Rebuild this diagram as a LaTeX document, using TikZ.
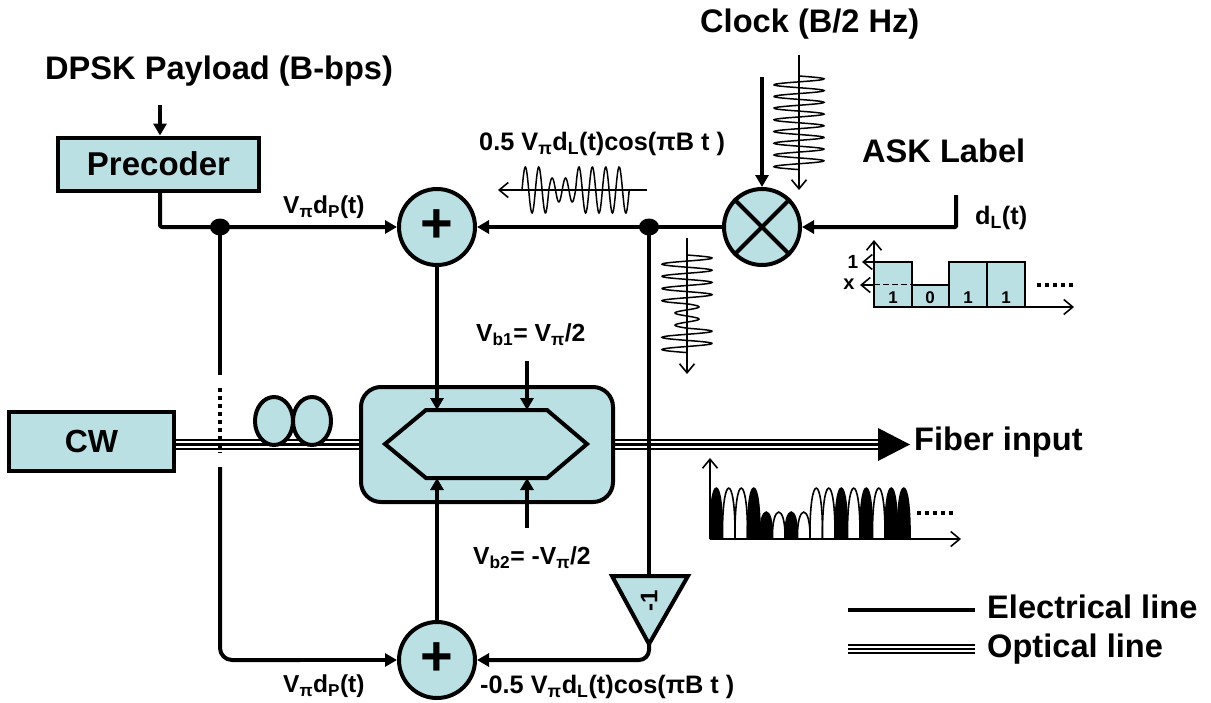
\documentclass[tikz,border=0pt]{standalone}
\usepackage{fontspec}
\setmainfont{Liberation Sans}
\usetikzlibrary{arrows.meta,shapes.geometric}
\definecolor{teal1}{HTML}{BBE0E3}
\newcommand{\fsz}[1]{\fontsize{#1}{#1}\selectfont\bfseries}
\newcommand{\Vpi}{V\textsubscript{π}}
\tikzset{
  lbl/.style={inner sep=0,anchor=west,font=\fsz{#1}},
  lbl/.default=32.6,
  boxn/.style={draw,line width=4pt,fill=teal1,inner sep=0},
  sumn/.style={boxn,circle,minimum size=76pt},
  elec/.style={line width=4pt},
  earrow/.style={elec,-{Triangle[length=12pt,width=13pt]}},
  thin1/.style={line width=1.6pt},
  tarrow/.style={thin1,-{Straight Barb[length=9pt,width=15pt,line width=1.6pt]}},
  wave/.style={line width=1.5pt},
  optline/.style={line width=2.4pt,preaction={draw,white,line width=6.4pt,preaction={draw,black,line width=11pt}}},
  dots/.style={line width=4pt,dash pattern=on 4pt off 4pt},
}
\begin{document}
\begin{tikzpicture}[x=1pt,y=-1pt]
\useasboundingbox (0,0) rectangle (1211,702);
% nodes
\node[boxn,minimum width=201pt,minimum height=53pt,font=\fsz{33}] (prec) at (158.5,164) {Precoder};
\node[boxn,minimum width=165pt,minimum height=59pt,font=\fsz{32}] (cw) at (91.5,441.5) {CW};
\node[sumn] (sumA) at (437,227) {};
\node[sumn] (sumB) at (437,660) {};
\node[font=\fsz{56},inner sep=0] (plusA) at (437,226) {+};
\node[font=\fsz{56},inner sep=0] (plusB) at (437,659) {+};
\node[boxn,circle,minimum size=76pt] (mix) at (762,227) {};
\draw[elec] (mix.45) -- (mix.225) (mix.135) -- (mix.315);
\fill (220,227) ellipse (10pt and 8.5pt);
\coordinate (dotA) at (220,227);
\fill (649,227) ellipse (10pt and 8.5pt);
\coordinate (dotB) at (649,227);
% optical lines
\coordinate (opt1) at (361,444.5);
\coordinate (opt2) at (613,444.5);
\coordinate (optend) at (880,444.5);
\draw[optline] (cw.east |- opt1) -- (opt1);
\draw[optline] (opt2) -- (optend);
\fill (878,428) -- (910,444.5) -- (878,461) -- cycle;
% coils
\node[boxn,ellipse,minimum width=38pt,minimum height=48pt] (coil1) at (274,421) {};
\node[boxn,ellipse,minimum width=38pt,minimum height=48pt] (coil2) at (312,421) {};
% modulator
\node[boxn,rounded corners=20pt,minimum width=252pt,minimum height=115pt] (mod) at (487,444.5) {};
\coordinate (hL) at (385,444);\coordinate (hTL) at (426,410);\coordinate (hTR) at (547,410);
\coordinate (hR) at (587,444);\coordinate (hBR) at (547,478);\coordinate (hBL) at (426,478);
\draw[elec,line join=miter] (hL)--(hTL)--(hTR)--(hR)--(hBR)--(hBL)--cycle;
% inverter
\coordinate (triL) at (612,576);\coordinate (triR) at (688,576);\coordinate (triB) at (649,644);
\draw[boxn,line join=miter] (triL)--(triR)--(triB)--cycle;
\node[font=\fsz{24},inner sep=0,rotate=90] (inv) at (649,601) {-1};
% electrical connectors
\coordinate (dpskin) at (160,105);
\coordinate (prb) at (160,190);
\coordinate (v1) at (220,375);
\coordinate (v2) at (220,388);
\coordinate (v3) at (220,453);
\coordinate (v4) at (220,467);
\coordinate (vb1) at (527,361);
\coordinate (vb2) at (527,528);
\coordinate (clk) at (762,77);
\coordinate (dl) at (956,195);
\draw[earrow] (dpskin) -- (prec.north -| dpskin) ;
\draw[earrow,line join=round,rounded corners=2pt] (prb) |- (sumA.west);
\draw[elec] (dotA) -- (v1);
\draw[dots] (v2) -- (v3);
\draw[elec,rounded corners=12pt] (v4) |- (300,660);
\draw[earrow] (300,660) -- (sumB.west);
\draw[earrow] (sumA.south) -- (hTL -| sumA);
\draw[earrow] (sumB.north) -- (hBL -| sumB);
\draw[earrow] (vb1) -- (hTL -| vb1);
\draw[earrow] (vb2) -- (hBL -| vb2);
\draw[earrow] (mix.west) -- (sumA.east);
\draw[elec] (dotB) -- (dotB |- triL);
\draw[earrow,rounded corners=10pt] (triB) |- (sumB.east);
\draw[earrow] (clk) -- (mix.north);
\draw[earrow,rounded corners=1pt] (dl) |- (mix.east);
% clock wave
\coordinate (ck1) at (799,55);\coordinate (ck2) at (799,190);
\draw[tarrow] (ck1) -- (ck2);
\draw[wave,domain=0:8,samples=200,smooth] plot ({799+25*sin(360*\x)},{76+11.7*\x});
% modulated wave
\coordinate (mw1) at (647,190);\coordinate (mw2) at (498,190);
\draw[tarrow] (mw1) -- (mw2);
\draw[wave,domain=0:8,samples=200,smooth] plot ({522+13.4*\x},{190-((\x>=2 && \x<=4) ? 12 : 23)*sin(360*\x)});
% vertical modulated wave
\coordinate (vw1) at (687,238);\coordinate (vw2) at (687,374);
\draw[tarrow] (vw1) -- (vw2);
\draw[wave,domain=0:8,samples=200,smooth] plot ({687+((\x>=4 && \x<=6) ? 12 : 25)*sin(360*\x)},{255+12.2*\x});
% label bar chart
\foreach \xa/\xb/\yt in {874/912/262,912/949/285,949/987/262,987/1025/262}
  \draw[thin1,fill=teal1] (\xa,307) rectangle (\xb,\yt);
\coordinate (org) at (874,307);\coordinate (ax1) at (874,240);\coordinate (ax2) at (1074,307);
\draw[tarrow] (org) -- (ax1);
\draw[tarrow] (org) -- (ax2);
\coordinate (t1) at (862,262);\coordinate (tx) at (860,285);
\draw[tarrow] (org |- t1) -- (t1);
\draw[tarrow] (org |- tx) -- (tx);
\draw[thin1,dash pattern=on 6pt off 3pt] (874,284.5) -- (912,284.5);
\foreach \x/\t in {893/1,930/0,968/1,1006/1}
  \node[font=\fsz{17},inner sep=0] at (\x,298) {\t};
\node[font=\fsz{19},inner sep=0] (one) at (853,262) {1};
\node[font=\fsz{20},inner sep=0] (exx) at (849,284) {x};
\draw[dots] (1037,285) -- (1075,285);
% spectrum
\coordinate (sorg) at (710,539);\coordinate (say) at (710,458);\coordinate (sax) at (961,539);
\foreach \i/\h/\c in {0/51/black,1/51/white,2/51/white,3/51/black,4/27/black,5/27/white,6/27/black,7/27/white,8/51/white,9/51/white,10/51/black,11/51/white,12/51/black,13/51/white,14/51/black,15/51/black}{
  \pgfmathsetmacro{\xs}{710+12.5*\i}
  \pgfmathsetmacro{\xe}{\xs+12.5}
  \pgfmathsetmacro{\ca}{\xs-0.8}
  \pgfmathsetmacro{\cb}{\xe+0.8}
  \pgfmathsetmacro{\yc}{539-1.33*\h}
  \draw[line width=1.6pt,fill=\c] (\xs,539) .. controls (\ca,\yc) and (\cb,\yc) .. (\xe,539);
}
\draw[tarrow] (sorg) -- (say);
\draw[tarrow] (sorg) -- (sax);
\draw[dots] (917,513) -- (955,513);
% legend
\coordinate (la) at (848,610);\coordinate (lb) at (975,610);
\coordinate (lc) at (848,649);\coordinate (ld) at (975,649);
\draw[elec] (la) -- (lb);
\draw[line width=2pt,preaction={draw,white,line width=6pt,preaction={draw,black,line width=10pt}}] (lc) -- (ld);
% texts
\node[lbl] (t0) at (45,71) {DPSK Payload (B-bps)};
\node[lbl] (t1b) at (700,24) {Clock (B/2 Hz)};
\node[lbl] (t2) at (862,151) {ASK Label};
\node[lbl=25.3] (t3) at (479,144) {0.5 \Vpi d\textsubscript{L}(t)cos(πB t )};
\node[lbl=25.3] (t4) at (975,218) {d\textsubscript{L}(t)};
\node[lbl=24.5] (t5) at (283,207) {\Vpi d\textsubscript{P}(t)};
\node[lbl=24.5] (t6) at (283,686) {\Vpi d\textsubscript{P}(t)};
\node[lbl=24.7] (t7) at (476,335) {V\textsubscript{b1}= \Vpi/2};
\node[lbl=24.7] (t8) at (473,558) {V\textsubscript{b2}= -\Vpi/2};
\node[lbl=25.3] (t9) at (480,687) {-0.5 \Vpi d\textsubscript{L}(t)cos(πB t )};
\node[lbl] (t10) at (914,442) {Fiber input};
\node[lbl] (t11) at (987,607) {Electrical line};
\node[lbl] (t12) at (987,649) {Optical line};
\end{tikzpicture}
\end{document}
